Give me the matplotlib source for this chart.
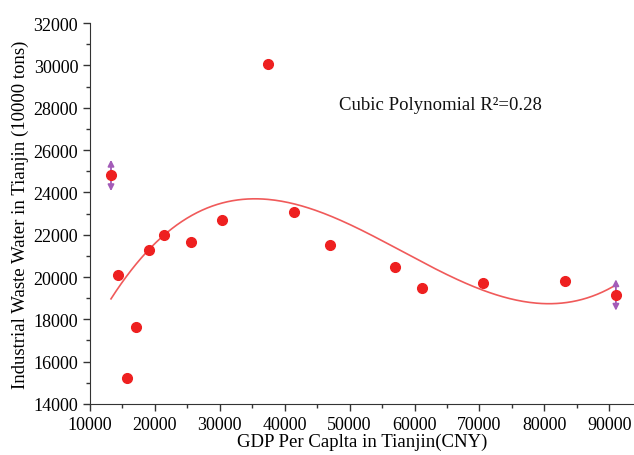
import numpy as np
import matplotlib
matplotlib.use("Agg")
import matplotlib.pyplot as plt
from matplotlib.ticker import MultipleLocator

# GDP per capita (CNY) and industrial waste water (10000 tons), Tianjin
gdp = [13230, 14360, 15640, 17030, 19080, 21380, 25490, 30350, 37380,
       41380, 46970, 56970, 61120, 70615, 83230, 91030]
waste = [24800, 20100, 15240, 17620, 21300, 22000, 21650, 22700, 30060,
         23050, 21500, 20480, 19480, 19710, 19810, 19150]
fit_label = "Cubic Polynomial R\u00b2=0.28"

plt.rcParams['font.family'] = ['Liberation Serif', 'DejaVu Serif']

fig = plt.figure(figsize=(6.34, 4.56), dpi=100)
ax = fig.add_axes([0.142, 0.112, 0.858, 0.835])

x = np.array(gdp, dtype=float)
y = np.array(waste, dtype=float)
coef = np.polyfit(x, y, 3)
xs = np.linspace(x.min(), x.max(), 300)
ax.plot(xs, np.polyval(coef, xs), color='#f05a5a', lw=1.2, zorder=2)

# double-headed markers on the end points
for i in (0, len(gdp) - 1):
    ax.annotate('', xy=(gdp[i], waste[i] + 740), xytext=(gdp[i], waste[i] - 740),
                arrowprops=dict(arrowstyle='<|-|>', color='#a35cb8', lw=1.3,
                                mutation_scale=9, shrinkA=0, shrinkB=0), zorder=3)

ax.plot(gdp, waste, 'o', color='#ee2020', markersize=7, zorder=4)

ax.text(0.458, 0.775, fit_label, transform=ax.transAxes, fontsize=13.5, color='#111111')

ax.set_xlim(10000, 93820)
ax.set_ylim(14000, 32000)
ax.xaxis.set_major_locator(MultipleLocator(10000))
ax.xaxis.set_minor_locator(MultipleLocator(5000))
ax.yaxis.set_major_locator(MultipleLocator(2000))
ax.yaxis.set_minor_locator(MultipleLocator(1000))
ax.tick_params(which='major', direction='out', length=5, width=1, labelsize=13, color='#333333')
ax.tick_params(which='minor', direction='out', length=3, width=1, color='#333333')
for s in ('top', 'right'):
    ax.spines[s].set_visible(False)
for s in ('left', 'bottom'):
    ax.spines[s].set_color('#333333')

ax.set_xlabel('GDP Per Caplta in Tianjin(CNY)', fontsize=13.5, labelpad=0)
ax.set_ylabel('Industrial Waste Water in Tianjin (10000 tons)', fontsize=13.5, labelpad=3)

fig.savefig('out.png', dpi=100)
